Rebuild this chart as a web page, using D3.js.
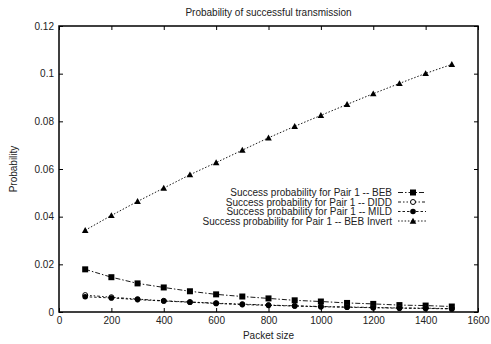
<!DOCTYPE html>
<html>
<head>
<meta charset="utf-8">
<script src="https://cdn.jsdelivr.net/npm/d3@7"></script>
<style>
  html, body { margin: 0; padding: 0; background: #fff; }
  svg { display: block; font-family: "Liberation Sans", Arial, sans-serif; }
</style>
</head>
<body>
<svg id="chart" width="491" height="344"></svg>
<script>
// Packet sizes (x) and success probability per backoff scheme
const packetSizes = [100, 200, 300, 400, 500, 600, 700, 800, 900, 1000, 1100, 1200, 1300, 1400, 1500];
const bebValues = [0.0179, 0.0146, 0.0120, 0.0103, 0.0087, 0.0074, 0.0065, 0.0057, 0.0049, 0.0044, 0.0038, 0.0034, 0.0029, 0.0027, 0.0023];
const diddValues = [0.0071, 0.0062, 0.0054, 0.0047, 0.0042, 0.0037, 0.0033, 0.0029, 0.0026, 0.0023, 0.0021, 0.0019, 0.0017, 0.0016, 0.0014];
const mildValues = [0.0064, 0.0059, 0.0052, 0.0046, 0.0041, 0.0036, 0.0031, 0.0028, 0.0025, 0.0022, 0.0020, 0.0018, 0.0016, 0.0015, 0.0013];
const bebInvertValues = [0.0343, 0.0405, 0.0464, 0.0520, 0.0576, 0.0627, 0.0679, 0.0731, 0.0779, 0.0825, 0.0871, 0.0916, 0.0959, 0.1001, 0.1039];

const seriesNames = [
  "Success probability for Pair 1 -- BEB",
  "Success probability for Pair 1 -- DIDD",
  "Success probability for Pair 1 -- MILD",
  "Success probability for Pair 1 -- BEB Invert"
];
const xTicks = [0, 200, 400, 600, 800, 1000, 1200, 1400, 1600];
const yTicks = [0, 0.02, 0.04, 0.06, 0.08, 0.1, 0.12];

const series = [
  { name: seriesNames[0], values: bebValues, dash: "5,2,1.5,2", marker: "square" },
  { name: seriesNames[1], values: diddValues, dash: "3,2,1.5,2,1.5,2", marker: "circleOpen" },
  { name: seriesNames[2], values: mildValues, dash: "2.5,2", marker: "circle" },
  { name: seriesNames[3], values: bebInvertValues, dash: "1.5,1.8", marker: "triangle" }
];

const svg = d3.select("#chart");
const m = { left: 59, right: 491 - 478, top: 26, bottom: 344 - 312 };
const W = 491, H = 344;

const x = d3.scaleLinear().domain([0, 1600]).range([m.left, W - m.right]);
const y = d3.scaleLinear().domain([0, 0.12]).range([H - m.bottom, m.top]);

const fontSize = 10;

// Axes with inward ticks on all four sides
const fmtY = d => d === 0 ? "0" : String(+d.toFixed(2));
const axB = svg.append("g").attr("transform", `translate(0,${y(0)})`)
  .call(d3.axisBottom(x).tickValues(xTicks).tickSizeInner(-4).tickSizeOuter(0).tickPadding(5).tickFormat(d3.format("d")));
const axT = svg.append("g").attr("transform", `translate(0,${y(0.12)})`)
  .call(d3.axisTop(x).tickValues(xTicks).tickSizeInner(-4).tickSizeOuter(0).tickFormat(""));
const axL = svg.append("g").attr("transform", `translate(${x(0)},0)`)
  .call(d3.axisLeft(y).tickValues(yTicks).tickSizeInner(-4).tickSizeOuter(0).tickPadding(5).tickFormat(fmtY));
const axR = svg.append("g").attr("transform", `translate(${x(1600)},0)`)
  .call(d3.axisRight(y).tickValues(yTicks).tickSizeInner(-4).tickSizeOuter(0).tickFormat(""));

[axB, axT, axL, axR].forEach(g => {
  g.select(".domain").remove();
  g.selectAll(".tick line").attr("stroke", "#000").attr("stroke-width", 1);
  g.selectAll("text").attr("font-size", fontSize).attr("fill", "#222")
    .attr("font-family", "Liberation Sans, Arial, sans-serif");
});

// Plot border
svg.append("rect")
  .attr("x", x(0)).attr("y", y(0.12))
  .attr("width", x(1600) - x(0)).attr("height", y(0) - y(0.12))
  .attr("fill", "none").attr("stroke", "#000").attr("stroke-width", 1.5);

// Titles
svg.append("text").attr("x", (x(0) + x(1600)) / 2).attr("y", 15.5)
  .attr("text-anchor", "middle").attr("font-size", fontSize).attr("fill", "#222")
  .text("Probability of successful transmission");
svg.append("text").attr("x", (x(0) + x(1600)) / 2).attr("y", 338.5)
  .attr("text-anchor", "middle").attr("font-size", fontSize).attr("fill", "#222")
  .text("Packet size");
svg.append("text")
  .attr("transform", `translate(16.5,${(y(0) + y(0.12)) / 2}) rotate(-90)`)
  .attr("text-anchor", "middle").attr("font-size", fontSize).attr("fill", "#222")
  .text("Probability");

function drawMarker(g, type, cx, cy) {
  if (type === "square") {
    g.append("rect").attr("x", cx - 3).attr("y", cy - 3).attr("width", 6).attr("height", 6).attr("fill", "#000");
  } else if (type === "circle") {
    g.append("circle").attr("cx", cx).attr("cy", cy).attr("r", 2.8).attr("fill", "#000");
  } else if (type === "circleOpen") {
    g.append("circle").attr("cx", cx).attr("cy", cy).attr("r", 2.5).attr("fill", "#fff")
      .attr("stroke", "#000").attr("stroke-width", 1);
  } else if (type === "triangle") {
    const s = 3.3;
    g.append("path")
      .attr("d", `M${cx},${cy - s} L${cx + s},${cy + s * 0.8} L${cx - s},${cy + s * 0.8} Z`)
      .attr("fill", "#000");
  }
}

const line = d3.line().x((d, i) => x(packetSizes[i])).y(d => y(d));

series.forEach(s => {
  svg.append("path").datum(s.values)
    .attr("d", line).attr("fill", "none").attr("stroke", "#000")
    .attr("stroke-width", 0.9).attr("stroke-dasharray", s.dash);
  const g = svg.append("g");
  s.values.forEach((v, i) => drawMarker(g, s.marker, x(packetSizes[i]), y(v)));
});

// Legend: right-aligned labels with line+marker samples
const legX = 392, legY0 = 192.5, legDy = 9.5;
series.forEach((s, i) => {
  const cy = legY0 + i * legDy;
  svg.append("text").attr("x", legX).attr("y", cy + 3.5)
    .attr("text-anchor", "end").attr("font-size", fontSize).attr("fill", "#222")
    .text(s.name);
  svg.append("line").attr("x1", 398).attr("x2", 426).attr("y1", cy).attr("y2", cy)
    .attr("stroke", "#000").attr("stroke-width", 0.9).attr("stroke-dasharray", s.dash);
  drawMarker(svg.append("g"), s.marker, 413, cy);
});
</script>
</body>
</html>
